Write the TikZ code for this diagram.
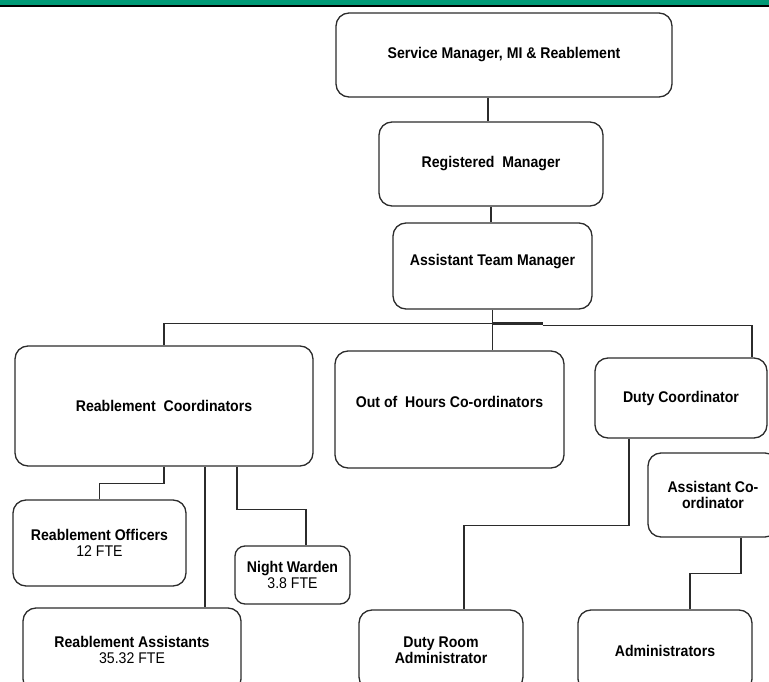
\documentclass[tikz,border=0pt]{standalone}
\usepackage{fontspec}
\setmainfont{Liberation Sans}[FakeStretch=0.91]
\definecolor{topgreen}{HTML}{009A76}
\definecolor{linegray}{HTML}{2B2B2B}
\begin{document}
\begin{tikzpicture}[x=1pt,y=-1pt,
  box/.style={draw=linegray, line width=1.3pt, rounded corners=13pt, align=center, inner sep=2pt,
              font=\fontsize{15.5}{16}\selectfont\bfseries},
  link/.style={draw=linegray, line width=1.2pt}]
\useasboundingbox (0,0) rectangle (769,682);
\clip (0,0) rectangle (769,682);
% top band
\fill[topgreen] (0,0) rectangle (769,4.7);
\fill[black] (0,4.7) rectangle (769,6.7);

% boxes
\node[box, minimum width=336pt, minimum height=84pt] (sm) at (504,55) {Service Manager, MI \& Reablement};
\node[box, minimum width=224pt, minimum height=84pt] (rm) at (491,164) {Registered\ \ Manager};
\node[box, minimum width=199pt, minimum height=86pt, text depth=13pt] (atm) at (492.5,266) {Assistant Team Manager};
\node[box, minimum width=298pt, minimum height=120pt] (rc) at (164,406) {Reablement\ \ Coordinators};
\node[box, minimum width=229pt, minimum height=117pt, text depth=16pt] (ooh) at (449.5,409.5) {Out of\ \ Hours Co-ordinators};
\node[box, minimum width=172pt, minimum height=80pt] (dc) at (681,398) {Duty Coordinator};
\node[box, minimum width=130pt, minimum height=84pt] (ac) at (713,495) {Assistant Co-\\ordinator};
\node[box, minimum width=173pt, minimum height=86pt] (ro) at (99.5,543) {Reablement Officers\\{\mdseries 12 FTE}};
\node[box, minimum width=115pt, minimum height=58pt, rounded corners=10pt] (nw) at (292.5,575) {Night Warden\\{\mdseries 3.8 FTE}};
\node[box, minimum width=218pt, minimum height=84pt] (ra) at (132,650) {Reablement Assistants\\{\mdseries 35.32 FTE}};
\node[box, minimum width=164pt, minimum height=80pt] (dra) at (441,650) {Duty Room\\Administrator};
\node[box, minimum width=174pt, minimum height=82pt] (adm) at (665,651) {Administrators};

% helper points
\coordinate (c1) at ([xshift=-16pt]sm.south);
\coordinate (bus) at ([yshift=-14pt]atm.south);
\coordinate (busR) at ([xshift=50pt,yshift=-1.5pt]bus);
\coordinate (dcin) at ([xshift=71pt]dc.north);
\coordinate (c3) at ([xshift=41pt]rc.south);
\coordinate (c4) at ([xshift=73pt]rc.south);
\coordinate (c5) at ([xshift=13.5pt]nw.north);
\coordinate (c6) at ([xshift=-52pt]dc.south);
\coordinate (c7) at ([xshift=23pt]dra.north);
\coordinate (c8) at ([xshift=28pt]ac.south);
\coordinate (c9) at ([xshift=25pt]adm.north);

% connectors
\draw[link] (c1) -- (c1 |- rm.north);
\draw[link] (rm.south) -- (rm.south |- atm.north);
\draw[link] (atm.south) -- (atm.south |- ooh.north);
\draw[link] (rc.north) |- (bus);
\draw[link, line width=2.6pt] (bus) -- ([xshift=50pt]bus);
\draw[link] (busR) -| (dcin);
\draw[link] (rc.south) -- ++(0,17) -| (ro.north);
\draw[link] (c3) -- (c3 |- ra.north);
\draw[link] (c4) -- ++(0,43) -| (c5);
\draw[link] (c6) -- ++(0,87) -| (c7);
\draw[link] (c8) -- ++(0,36) -| (c9);
\end{tikzpicture}
\end{document}
